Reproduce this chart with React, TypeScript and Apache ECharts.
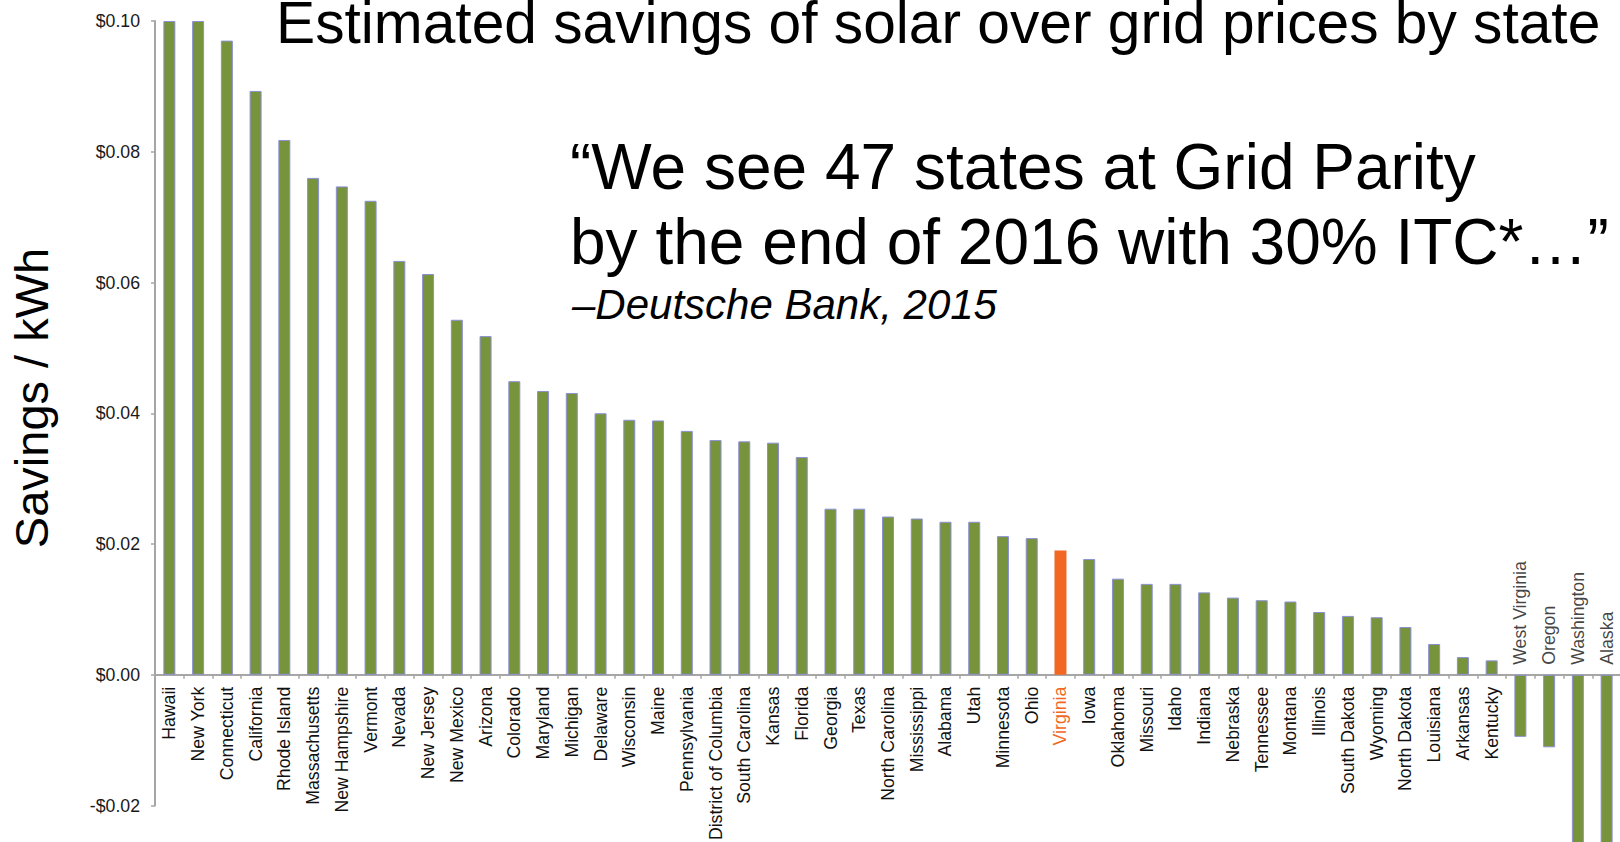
import React, { useEffect, useRef } from 'react';
import * as echarts from 'echarts';

const states: string[] = [
  'Hawaii', 'New York', 'Connecticut', 'California', 'Rhode Island', 'Massachusetts',
  'New Hampshire', 'Vermont', 'Nevada', 'New Jersey', 'New Mexico', 'Arizona',
  'Colorado', 'Maryland', 'Michigan', 'Delaware', 'Wisconsin', 'Maine', 'Pennsylvania',
  'District of Columbia', 'South Carolina', 'Kansas', 'Florida', 'Georgia', 'Texas',
  'North Carolina', 'Mississippi', 'Alabama', 'Utah', 'Minnesota', 'Ohio', 'Virginia',
  'Iowa', 'Oklahoma', 'Missouri', 'Idaho', 'Indiana', 'Nebraska', 'Tennessee', 'Montana',
  'Illinois', 'South Dakota', 'Wyoming', 'North Dakota', 'Louisiana', 'Arkansas',
  'Kentucky', 'West Virginia', 'Oregon', 'Washington', 'Alaska',
];

const savings: number[] = [
  0.1, 0.1, 0.097, 0.0893, 0.0818, 0.076,
  0.0747, 0.0725, 0.0633, 0.0613, 0.0543, 0.0518,
  0.0449, 0.0434, 0.0431, 0.04, 0.039, 0.0389, 0.0373,
  0.0359, 0.0357, 0.0355, 0.0333, 0.0254, 0.0254,
  0.0242, 0.0239, 0.0234, 0.0234, 0.0212, 0.0209, 0.019,
  0.0177, 0.0147, 0.0139, 0.0139, 0.0126, 0.0118, 0.0114, 0.0112,
  0.0096, 0.009, 0.0088, 0.0073, 0.0047, 0.0027,
  0.0022, -0.0095, -0.0111, -0.03, -0.03,
];

const highlightState = 'Virginia';

const yMin = -0.02;
const yMax = 0.1;
const yInterval = 0.02;

const titleText = 'Estimated savings of solar over grid prices by state';
const quoteLines: string[] = [
  '\u201CWe see 47 states at Grid Parity',
  'by the end of 2016 with 30% ITC*\u2026\u201D',
];
const quoteSource = '\u2013Deutsche Bank, 2015';
const yAxisTitle = 'Savings / kWh';

const GREEN = '#77933c';
const ORANGE = '#f26722';
const LABEL_COLOR = '#111111';
const FONT = '"Liberation Sans", Arial, Helvetica, sans-serif';

const GRID_TOP = 21;
const GRID_HEIGHT = 784.5;

export default function App() {
  const ref = useRef<HTMLDivElement>(null);

  useEffect(() => {
    if (!ref.current) return;
    const chart = echarts.init(ref.current, undefined, { renderer: 'svg' });

    const categoryData = states.map((s) => {
      if (s === highlightState) return { value: s, textStyle: { color: ORANGE } };
      return s;
    });

    const barData = savings.map((v, i) => {
      if (states[i] === highlightState) {
        return { value: v, itemStyle: { color: ORANGE, borderWidth: 0 } };
      }
      return v;
    });

    // labels for states with negative savings sit above the zero line
    const aboveAxisLabels = states
      .map((s, i) => ({ s, v: savings[i] }))
      .filter((d) => d.v < 0)
      .map((d) => ({ value: [d.s, 0], name: d.s }));

    // move the category axis up to the zero line
    const zeroOffset = -GRID_HEIGHT * ((0 - yMin) / (yMax - yMin));

    chart.setOption({
      animation: false,
      backgroundColor: '#ffffff',
      textStyle: { fontFamily: FONT },
      grid: {
        left: 155,
        top: GRID_TOP,
        width: 1466,
        height: GRID_HEIGHT,
        containLabel: false,
        outerBoundsMode: 'none',
      },
      xAxis: {
        type: 'category',
        data: categoryData,
        position: 'bottom',
        offset: zeroOffset,
        axisLine: { onZero: false, lineStyle: { color: '#a6a6a6', width: 2 } },
        axisTick: { show: true, length: 4, alignWithLabel: false, lineStyle: { color: '#a6a6a6', width: 1.5 } },
        axisLabel: {
          interval: 0,
          rotate: 90,
          margin: 12,
          fontSize: 17.7,
          color: LABEL_COLOR,
          fontFamily: FONT,
          hideOverlap: false,
          formatter: (value: string, index: number) => (savings[index] < 0 ? '' : value),
        },
        splitLine: { show: false },
      },
      yAxis: {
        type: 'value',
        min: yMin,
        max: yMax,
        interval: yInterval,
        axisLine: { show: true, lineStyle: { color: '#a6a6a6', width: 2 } },
        axisTick: { show: true, length: 4, lineStyle: { color: '#a6a6a6', width: 1.5 } },
        splitLine: { show: false },
        axisLabel: {
          margin: 15,
          fontSize: 17.7,
          color: '#1a1a1a',
          fontFamily: FONT,
          formatter: (v: number) => {
            const r = Math.round(v * 100) / 100;
            return (r < 0 ? '-$' : '$') + Math.abs(r).toFixed(2);
          },
        },
      },
      series: [
        {
          type: 'bar',
          data: barData,
          barWidth: 12,
          clip: false,
          itemStyle: { color: GREEN, borderColor: '#8c90d4', borderWidth: 1 },
        },
        {
          type: 'scatter',
          data: aboveAxisLabels,
          symbolSize: 0,
          silent: true,
          z: 5,
          label: {
            show: true,
            position: 'top',
            distance: 10,
            rotate: 90,
            align: 'left',
            verticalAlign: 'middle',
            fontSize: 17.7,
            color: LABEL_COLOR,
            fontFamily: FONT,
            formatter: (p: any) => p.name,
          },
        },
      ],
      graphic: [
        {
          type: 'text',
          x: 276,
          y: 22,
          style: { text: titleText, fontSize: 58.7, fontFamily: FONT, fill: '#000', align: 'left', verticalAlign: 'middle' },
        },
        {
          type: 'text',
          x: 570,
          y: 166.5,
          style: { text: quoteLines[0], fontSize: 64, fontFamily: FONT, fill: '#000', align: 'left', verticalAlign: 'middle' },
        },
        {
          type: 'text',
          x: 570,
          y: 241.5,
          style: { text: quoteLines[1], fontSize: 64, fontFamily: FONT, fill: '#000', align: 'left', verticalAlign: 'middle' },
        },
        {
          type: 'text',
          x: 572,
          y: 304.5,
          style: { text: quoteSource, fontSize: 42, fontStyle: 'italic', fontFamily: FONT, fill: '#000', align: 'left', verticalAlign: 'middle' },
        },
        {
          type: 'text',
          x: 31.7,
          y: 398,
          rotation: Math.PI / 2,
          style: { text: yAxisTitle, fontSize: 47, fontFamily: FONT, fill: '#000', align: 'center', verticalAlign: 'middle' },
        },
      ],
    });

    return () => chart.dispose();
  }, []);

  return (
    <div
      ref={ref}
      style={{ position: 'fixed', left: 0, top: 0, width: 1620, height: 842, background: '#fff' }}
    />
  );
}
